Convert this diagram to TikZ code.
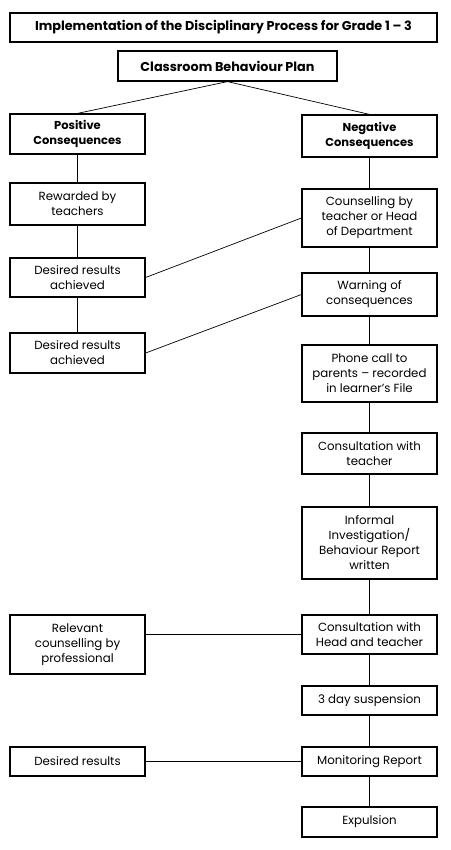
\documentclass[tikz,border=0pt]{standalone}
\usepackage{fontspec}
\setmainfont{Poppins}
\usetikzlibrary{positioning}
\begin{document}
\begin{tikzpicture}[
  x=1pt, y=-1pt,
  stepbox/.style={
    draw, line width=1.2pt, minimum width=135pt, inner sep=0pt,
    align=center, font=\fontsize{11.8}{15}\selectfont, fill=white,
  },
  headbox/.style={stepbox, font=\fontsize{11.5}{15}\selectfont\bfseries},
  link/.style={line width=0.7pt},
]
\useasboundingbox (0,0) rectangle (450,850);

% Title and plan
\node[headbox, minimum width=427pt, minimum height=29pt, font=\fontsize{12.8}{15}\selectfont\bfseries] (title) at (223.5,27.5) {Implementation of the Disciplinary Process for Grade 1 -- 3};
\node[headbox, minimum width=219pt, minimum height=30pt, font=\fontsize{12.8}{15}\selectfont\bfseries] (plan) at (227.5,66) {Classroom Behaviour Plan};

% Positive side
\node[headbox, minimum height=40pt] (pos) at (77.5,134) {Positive\\Consequences};
\node[stepbox, minimum height=42pt] (rew) at (77.5,204) {Rewarded by\\teachers};
\node[stepbox, minimum height=39pt] (des1) at (77.5,277.5) {Desired results\\achieved};
\node[stepbox, minimum height=40pt] (des2) at (77.5,353) {Desired results\\achieved};
\node[stepbox, minimum height=59pt] (rel) at (77.5,644.5) {Relevant\\counselling by\\professional};
\node[stepbox, minimum height=29pt] (desr) at (77.5,761.5) {Desired results};

% Negative side
\node[headbox, minimum height=42pt] (neg) at (369.5,136) {Negative\\Consequences};
\node[stepbox, minimum height=58pt] (couns) at (369.5,218) {Counselling by\\teacher or Head\\of Department};
\node[stepbox, minimum height=43pt] (warn) at (369.5,294.5) {Warning of\\consequences};
\node[stepbox, minimum height=57pt] (phone) at (369.5,373.5) {Phone call to\\parents -- recorded\\in learner's File};
\node[stepbox, minimum height=41pt] (cwt) at (369.5,453.5) {Consultation with\\teacher};
\node[stepbox, minimum height=72pt] (inf) at (369.5,543) {Informal\\Investigation/\\Behaviour Report\\written};
\node[stepbox, minimum height=39pt] (cht) at (369.5,634.5) {Consultation with\\Head and teacher};
\node[stepbox, minimum height=29pt] (susp) at (369.5,700.5) {3 day suspension};
\node[stepbox, minimum height=29pt] (mon) at (369.5,761.5) {Monitoring Report};
\node[stepbox, minimum height=30pt] (exp) at (369.5,822) {Expulsion};

% Connectors
\draw[link] (plan.south) -- (pos.north);
\draw[link] (plan.south) -- (neg.north);
\draw[link] (pos) -- (rew) -- (des1) -- (des2);
\draw[link] (neg) -- (couns) -- (warn) -- (phone) -- (cwt) -- (inf) -- (cht) -- (susp) -- (mon) -- (exp);
\draw[link] (des1.east) -- (couns.west);
\draw[link] (des2.east) -- (warn.west);
\draw[link] (rel.east |- cht.west) -- (cht.west);
\draw[link] (desr) -- (mon);

\end{tikzpicture}
\end{document}
